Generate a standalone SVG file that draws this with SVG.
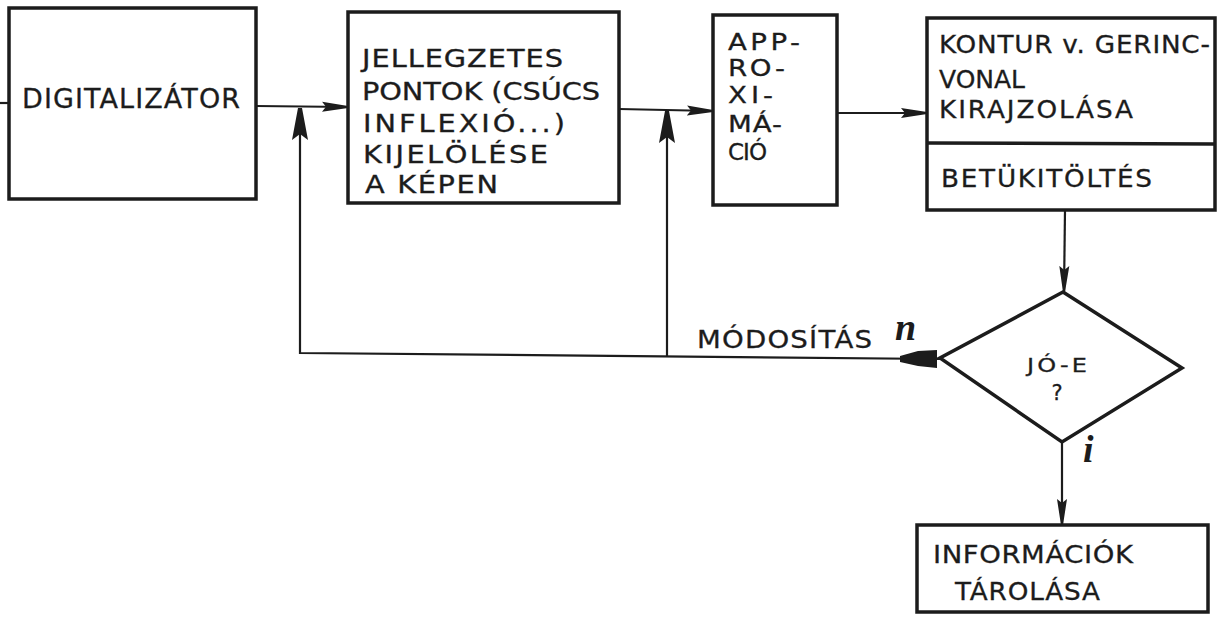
<svg xmlns="http://www.w3.org/2000/svg" width="1221" height="619" viewBox="0 0 1221 619">
<style>
.box{fill:none;stroke:#1c1c1c;stroke-width:3.5;stroke-linejoin:miter}
.conn{fill:none;stroke:#1c1c1c;stroke-width:2.2}
.t{font-family:"DejaVu Sans","Liberation Sans",sans-serif;fill:#1c1c1c;stroke:#1c1c1c;stroke-width:0.3}
.hand{font-family:"Liberation Serif",serif;font-style:italic;font-weight:bold;fill:#1c1c1c}
</style>
<defs>
<marker id="arr" viewBox="0 0 26 12" refX="26" refY="6" markerWidth="26" markerHeight="12" markerUnits="userSpaceOnUse" orient="auto"><path d="M0,1 L26,5 L26,7 L0,11 L4,6 z" fill="#1c1c1c"/></marker>
<marker id="up" viewBox="0 0 32 18" refX="32" refY="9" markerWidth="32" markerHeight="18" markerUnits="userSpaceOnUse" orient="auto"><path d="M0,1 L32,7 L32,11 L0,17 L6,9 z" fill="#1c1c1c"/></marker>
</defs>
<rect width="1221" height="619" fill="#ffffff"/>

<g id="connectors">
<path class="conn" d="M0,103 L9,103"/>
<path class="conn" d="M256,106 L348,107" marker-end="url(#arr)"/>
<path class="conn" d="M619,109 L713,111" marker-end="url(#arr)"/>
<path class="conn" d="M837,113 L927,113" marker-end="url(#arr)"/>
<path class="conn" d="M1065,210 L1064,292" marker-end="url(#arr)"/>
<path class="conn" d="M1062,442 L1062,525" marker-end="url(#arr)"/>
<path class="conn" d="M940,359 L300,353 L300,108" marker-end="url(#up)"/>
<path class="conn" d="M667,356 L667,111" marker-end="url(#up)"/>
<polygon points="937,350 937,368 918,366 900,362 900,356 918,351" fill="#1c1c1c"/>
<text class="t" transform="translate(697,348) scale(1.15,1)" font-size="24" textLength="152.2" lengthAdjust="spacing">MÓDOSÍTÁS</text>
<text class="hand" x="895" y="340" font-size="38">n</text>
<text class="hand" x="1083" y="462" font-size="38">i</text>
</g>

<g id="digitalizator">
<rect class="box" x="9" y="8" width="247" height="191"/>
<text class="t" x="22" y="108" font-size="27" textLength="218" lengthAdjust="spacing">DIGITALIZÁTOR</text>
</g>

<g id="jellegzetes">
<rect class="box" x="348" y="12" width="271" height="191"/>
<text class="t" transform="translate(362,67) scale(1.2,1)" font-size="24" textLength="167.5" lengthAdjust="spacing">JELLEGZETES</text>
<text class="t" transform="translate(362,100) scale(1.2,1)" font-size="24" textLength="198.3" lengthAdjust="spacing">PONTOK (CSÚCS</text>
<text class="t" transform="translate(363,132) scale(1.2,1)" font-size="24" textLength="168.3" lengthAdjust="spacing">INFLEXIÓ...)</text>
<text class="t" transform="translate(363,163) scale(1.2,1)" font-size="24" textLength="154.2" lengthAdjust="spacing">KIJELÖLÉSE</text>
<text class="t" transform="translate(365,193) scale(1.2,1)" font-size="24" textLength="110.8" lengthAdjust="spacing">A KÉPEN</text>
</g>

<g id="approximacio">
<rect class="box" x="713" y="15" width="124" height="190"/>
<text class="t" transform="translate(728,50) scale(1.2,1)" font-size="23" textLength="60" lengthAdjust="spacing">APP-</text>
<text class="t" transform="translate(728,76) scale(1.2,1)" font-size="23" textLength="47.5" lengthAdjust="spacing">RO-</text>
<text class="t" transform="translate(728,103) scale(1.2,1)" font-size="23" textLength="37.5" lengthAdjust="spacing">XI-</text>
<text class="t" transform="translate(728,132) scale(1.2,1)" font-size="23" textLength="45" lengthAdjust="spacing">MÁ-</text>
<text class="t" x="728" y="160" font-size="23" textLength="39" lengthAdjust="spacing">CIÓ</text>
</g>

<g id="kontur">
<rect class="box" x="927" y="18" width="288" height="192"/>
<line class="box" x1="927" y1="143" x2="1215" y2="144"/>
<text class="t" transform="translate(939,53) scale(1.05,1)" font-size="25" textLength="258" lengthAdjust="spacing">KONTUR v. GERINC-</text>
<text class="t" x="939" y="88" font-size="25" textLength="86" lengthAdjust="spacing">VONAL</text>
<text class="t" transform="translate(939,118) scale(1.05,1)" font-size="25" textLength="184.8" lengthAdjust="spacing">KIRAJZOLÁSA</text>
<text class="t" transform="translate(941,187) scale(1.05,1)" font-size="25" textLength="201" lengthAdjust="spacing">BETÜKITÖLTÉS</text>
</g>

<g id="joe">
<polygon class="box" points="1063,292 1182,368 1062,442 940,358"/>
<text class="t" transform="translate(1027,372) scale(1.2,1)" font-size="20" textLength="50" lengthAdjust="spacing">JÓ-E</text>
<text class="t" x="1057" y="400" font-size="21" text-anchor="middle">?</text>
</g>

<g id="informaciok">
<rect class="box" x="917" y="525" width="291" height="87"/>
<text class="t" transform="translate(933,563) scale(1.1,1)" font-size="25" textLength="181.8" lengthAdjust="spacing">INFORMÁCIÓK</text>
<text class="t" transform="translate(955,600) scale(1.05,1)" font-size="25" textLength="138.1" lengthAdjust="spacing">TÁROLÁSA</text>
</g>
</svg>
